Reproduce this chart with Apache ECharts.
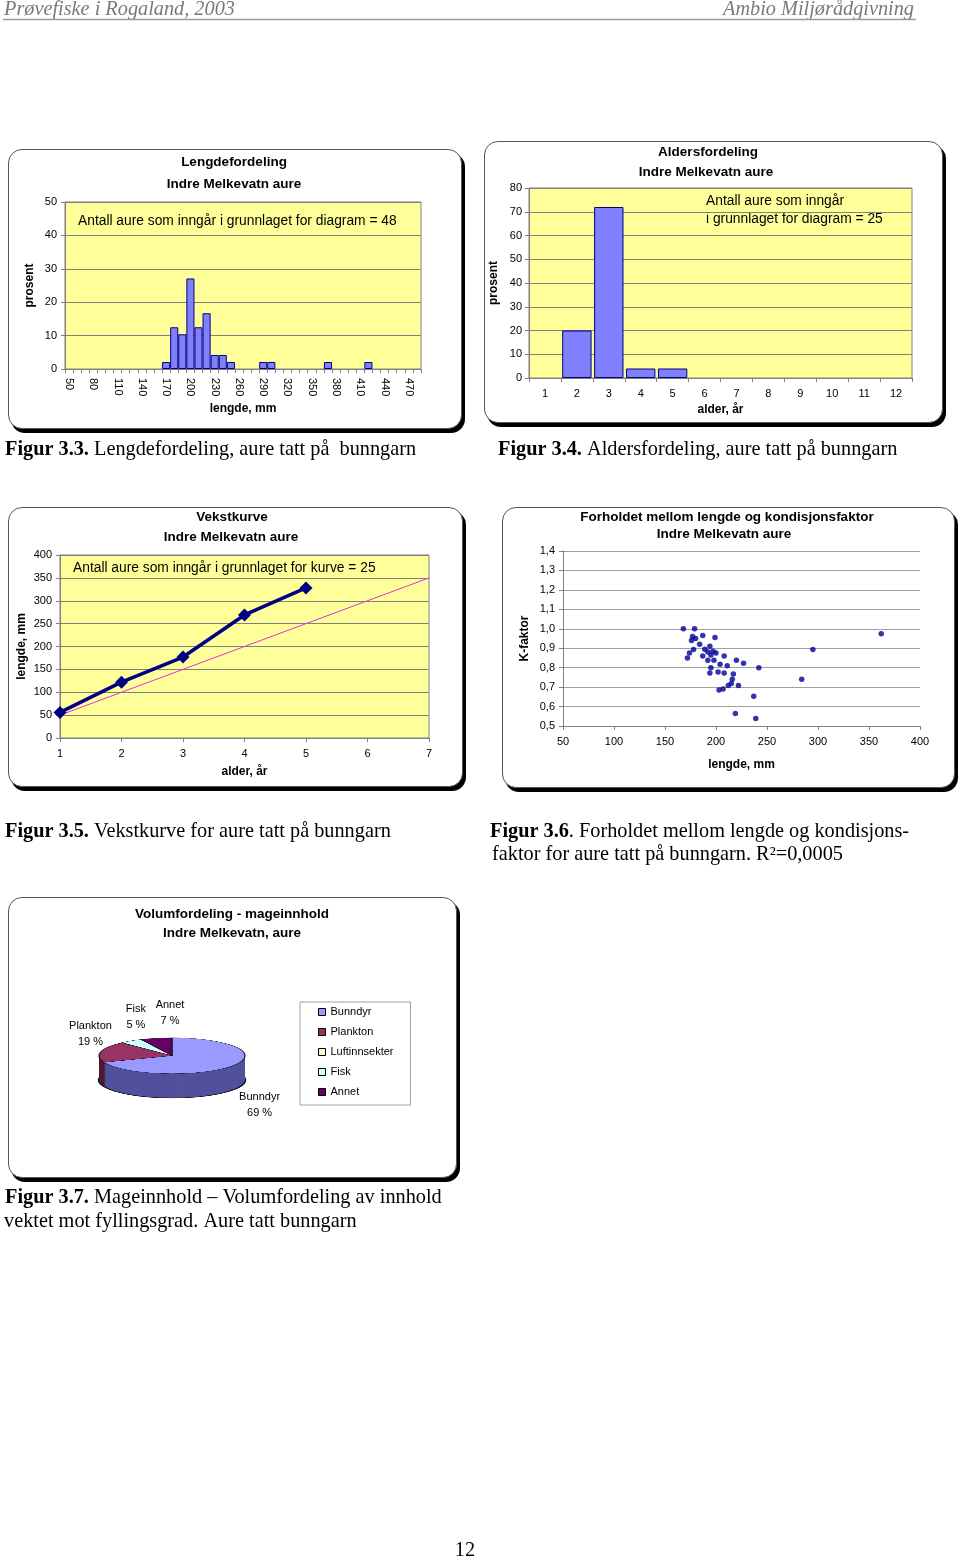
<!DOCTYPE html>
<html>
<head>
<meta charset="utf-8">
<script src="https://cdn.jsdelivr.net/npm/echarts@6/dist/echarts.min.js"></script>
<style>
html,body{margin:0;padding:0;background:#fff;}
#page{position:relative;width:960px;height:1561px;overflow:hidden;background:#fff;}
.frame{position:absolute;box-sizing:border-box;background:#fff;border:1px solid #555;border-radius:14px;box-shadow:3px 4px 0 0 #000;}
#main{position:absolute;left:0;top:0;width:960px;height:1561px;}
#pie3d{position:absolute;left:72px;top:1036.3px;width:200px;height:258px;transform-origin:0 0;transform:scaleY(0.246);}
</style>
</head>
<body>
<div id="page">
  <div class="frame" style="left:8px;top:149px;width:454px;height:280px;"></div>
  <div class="frame" style="left:484px;top:141px;width:459px;height:282px;"></div>
  <div class="frame" style="left:8px;top:507px;width:455px;height:280px;"></div>
  <div class="frame" style="left:502px;top:507px;width:453px;height:281px;"></div>
  <div class="frame" style="left:8px;top:897px;width:449px;height:281px;"></div>
  <div id="main"></div>
  <div id="pie3d"></div>
</div>
<script>
// ---------------- DATA ----------------
const histCategories = ['50','60','70','80','90','100','110','120','130','140','150','160','170','180','190','200','210','220','230','240','250','260','270','280','290','300','310','320','330','340','350','360','370','380','390','400','410','420','430','440','450','460','470','480'];
const histPercent = [0,0,0,0,0,0,0,0,0,0,0,0,2.1,12.5,10.4,27.1,12.5,16.7,4.2,4.2,2.1,0,0,0,2.1,2.1,0,0,0,0,0,0,2.1,0,0,0,0,2.1,0,0,0,0,0,0];

const ageCategories = ['1','2','3','4','5','6','7','8','9','10','11','12'];
const agePercent = [0,20,72,4,4,0,0,0,0,0,0,0];

const growthAge = [1,2,3,4,5];
const growthLength = [56,122,177,269,328];
const refAge = [1,7];
const refLength = [50,350];

const scatterLength = [168,179,177,187,176,180,199,184,194,189,197,192,200,195,187,208,174,178,172,192,198,220,227,204,211,242,195,194,202,208,217,216,215,212,222,207,203,237,219,239,295,284,362];
const scatterK = [1.00,1.00,0.96,0.965,0.94,0.95,0.955,0.92,0.91,0.895,0.885,0.88,0.875,0.865,0.86,0.86,0.875,0.893,0.85,0.838,0.838,0.838,0.823,0.817,0.81,0.80,0.80,0.773,0.778,0.773,0.767,0.74,0.718,0.708,0.708,0.69,0.685,0.653,0.564,0.538,0.893,0.74,0.975];

const dietCategories = ['Bunndyr','Plankton','Luftinnsekter','Fisk','Annet'];
const dietPercent = [69,19,0,5,7];

// ---------------- STYLE ----------------
const FONT = '"Liberation Sans", Arial, sans-serif';
const SERIF = '"Liberation Serif", "Times New Roman", serif';
const GRAY = '#808080';
const YELLOW = '#FFFF99';
const dietTop = ['#9999FF','#993366','#FFFFCC','#CCFFFF','#660066'];
const dietSide = ['#50509C','#4D1A33','#80806A','#668080','#330033'];
const PIE = {cx:172, cy:1056, rx:73, ry:18, depth:24};

const nameStyle = {fontWeight:'bold', fontSize:12, fontFamily:FONT, color:'#000'};
const labelStyle = {fontSize:11, fontFamily:FONT, color:'#000'};

function gridBox(left, top, width, height, filled) {
  return {left, top, width, height, containLabel:false, outerBoundsMode:'none',
    show: filled, backgroundColor: YELLOW, borderColor: GRAY, borderWidth: 1};
}
function axisCommon(extra) {
  return Object.assign({
    axisLine:{show:true, onZero:false, lineStyle:{color:GRAY, width:1}},
    axisTick:{show:true, inside:false, length:4, lineStyle:{color:GRAY}},
    nameLocation:'middle', nameTextStyle:nameStyle, nameMoveOverlap:false
  }, extra);
}

function txt(text, x, y, opts) {
  return {type:'text', x, y, silent:true, style:Object.assign({
    text, fill:'#000', fontFamily:FONT, fontSize:13.8, align:'center', verticalAlign:'middle'
  }, opts || {})};
}
const bold = {fontWeight:'bold', fontSize:13.5};

const graphics = [
  // header
  txt('Prøvefiske i Rogaland, 2003', 4, 10, {fontFamily:SERIF, fontStyle:'italic', fontSize:20.3, fill:'#7a7a7a', align:'left'}),
  txt('Ambio Miljørådgivning', 914, 10, {fontFamily:SERIF, fontStyle:'italic', fontSize:20.3, fill:'#7a7a7a', align:'right'}),
  {type:'line', silent:true, shape:{x1:3, y1:19.5, x2:916, y2:19.5}, style:{stroke:'#9a9a9a', lineWidth:1.5}},
  // titles
  txt('Lengdefordeling', 234, 162, bold),
  txt('Indre Melkevatn aure', 234, 184, bold),
  txt('Aldersfordeling', 708, 152, bold),
  txt('Indre Melkevatn aure', 706, 172, bold),
  txt('Vekstkurve', 232, 517, bold),
  txt('Indre Melkevatn aure', 231, 537, bold),
  txt('Forholdet mellom lengde og kondisjonsfaktor', 727, 517, bold),
  txt('Indre Melkevatn aure', 724, 534, bold),
  txt('Volumfordeling - mageinnhold', 232, 914, bold),
  txt('Indre Melkevatn, aure', 232, 933, bold),
  // annotations
  txt('Antall aure som inngår i grunnlaget for diagram = 48', 78, 221, {align:'left'}),
  txt('Antall aure som inngår', 706, 201, {align:'left'}),
  txt('i grunnlaget for diagram = 25', 706, 219, {align:'left'}),
  txt('Antall aure som inngår i grunnlaget for kurve = 25', 73, 568, {align:'left'}),
];

// captions
function caption(boldPart, rest, x, y) {
  return {type:'text', x, y, silent:true, style:{
    text:'{b|' + boldPart + '}' + rest, fill:'#000', fontFamily:SERIF, fontSize:20.3,
    align:'left', verticalAlign:'middle',
    rich:{b:{fontWeight:'bold', fontFamily:SERIF, fontSize:20.3, fill:'#000'}}
  }};
}
graphics.push(
  caption('Figur 3.3.', ' Lengdefordeling, aure tatt på  bunngarn', 5, 450),
  caption('Figur 3.4.', ' Aldersfordeling, aure tatt på bunngarn', 498, 450),
  caption('Figur 3.5.', ' Vekstkurve for aure tatt på bunngarn', 5, 832),
  caption('Figur 3.6', '. Forholdet mellom lengde og kondisjons-', 490, 832),
  txt('faktor for aure tatt på bunngarn. R²=0,0005', 492, 855, {fontFamily:SERIF, fontSize:20.3, align:'left'}),
  caption('Figur 3.7.', ' Mageinnhold – Volumfordeling av innhold', 5, 1198),
  txt('vektet mot fyllingsgrad. Aure tatt bunngarn', 4, 1222, {fontFamily:SERIF, fontSize:20.3, align:'left'}),
  txt('12', 465, 1551, {fontFamily:SERIF, fontSize:20.3})
);

// pie labels computed from data (placed around the 3D pie ellipse)
(function(){
  const total = dietPercent.reduce((a,b)=>a+b,0);
  let cum = 0;
  dietPercent.forEach((v,i)=>{
    const mid = (cum + v/2) / total * 2 * Math.PI;
    cum += v;
    if (v <= 0) return;
    const s = Math.sin(mid), c = Math.cos(mid);
    const x = PIE.cx + (PIE.rx + 22) * s + 9 + 10 * Math.max(0, c);
    const above = c >= 0;
    const y = above ? PIE.cy - (PIE.ry + 10) * c
                    : PIE.cy - (PIE.ry + PIE.depth + 16) * c;
    graphics.push(txt(dietCategories[i] + '\n' + v + ' %', x, y,
      {fontSize:11, lineHeight:16, verticalAlign: above ? 'bottom' : 'top'}));
  });
})();

const chart = echarts.init(document.getElementById('main'), null, {renderer:'canvas'});
const option = {
  animation:false,
  backgroundColor:'transparent',
  textStyle:{fontFamily:FONT},
  grid:[
    gridBox(65, 202, 356, 167, true),
    gridBox(529, 188, 383, 190, true),
    gridBox(60, 555, 369, 183, true),
    gridBox(563, 551, 357, 175, false)
  ],
  xAxis:[
    axisCommon({gridIndex:0, type:'category', data:histCategories, boundaryGap:true,
      axisTick:{show:true, interval:0, length:4, lineStyle:{color:GRAY}},
      axisLabel:Object.assign({interval:2, rotate:-90, margin:9}, labelStyle),
      splitLine:{show:false}, name:'lengde, mm', nameGap:34}),
    axisCommon({gridIndex:1, type:'category', data:ageCategories, boundaryGap:true,
      axisTick:{show:true, interval:0, length:4, lineStyle:{color:GRAY}},
      axisLabel:Object.assign({interval:0, margin:10}, labelStyle),
      splitLine:{show:false}, name:'alder, år', nameGap:26}),
    axisCommon({gridIndex:2, type:'value', min:1, max:7, interval:1,
      axisLabel:Object.assign({margin:10}, labelStyle),
      splitLine:{show:false}, name:'alder, år', nameGap:28}),
    axisCommon({gridIndex:3, type:'value', min:50, max:400, interval:50,
      axisLabel:Object.assign({margin:10}, labelStyle),
      splitLine:{show:false}, name:'lengde, mm', nameGap:33})
  ],
  yAxis:[
    axisCommon({gridIndex:0, type:'value', min:0, max:50, interval:10,
      axisLabel:Object.assign({margin:8}, labelStyle),
      splitLine:{show:true, lineStyle:{color:GRAY, width:1}}, name:'prosent', nameGap:29}),
    axisCommon({gridIndex:1, type:'value', min:0, max:80, interval:10,
      axisLabel:Object.assign({margin:7}, labelStyle),
      splitLine:{show:true, lineStyle:{color:GRAY, width:1}}, name:'prosent', nameGap:29}),
    axisCommon({gridIndex:2, type:'value', min:0, max:400, interval:50,
      axisLabel:Object.assign({margin:8}, labelStyle),
      splitLine:{show:true, lineStyle:{color:GRAY, width:1}}, name:'lengde, mm', nameGap:32}),
    axisCommon({gridIndex:3, type:'value', min:0.5, max:1.4, interval:0.1,
      axisLabel:Object.assign({margin:8, formatter:v=>v.toFixed(1).replace('.', ',')}, labelStyle),
      splitLine:{show:true, lineStyle:{color:'#a0a0a0', width:1}}, name:'K-faktor', nameGap:32})
  ],
  legend:{
    data:dietCategories, orient:'vertical', left:300, top:1002,
    icon:'rect', itemWidth:7, itemHeight:7, itemGap:6,
    padding:[3,17,6,18],
    borderColor:'#a0a0a0', borderWidth:1, backgroundColor:'#fff',
    selectedMode:false,
    itemStyle:{borderColor:'#000', borderWidth:1},
    textStyle:{fontSize:11, fontFamily:FONT, color:'#000', lineHeight:14}
  },
  series:[
    {type:'bar', name:'Lengdefordeling', xAxisIndex:0, yAxisIndex:0,
      data:histPercent.map(v=>v === 0 ? null : v), barCategoryGap:'0%',
      itemStyle:{color:'#8080FF', borderColor:'#000080', borderWidth:1}, silent:true},
    {type:'bar', name:'Aldersfordeling', xAxisIndex:1, yAxisIndex:1,
      data:agePercent.map(v=>v === 0 ? null : v), barCategoryGap:'8%',
      itemStyle:{color:'#8080FF', borderColor:'#000080', borderWidth:1}, silent:true},
    {type:'line', name:'Referanse', xAxisIndex:2, yAxisIndex:2,
      data:refAge.map((a,i)=>[a, refLength[i]]), symbol:'none',
      lineStyle:{color:'#E030E0', width:1}, silent:true},
    {type:'line', name:'Vekstkurve', xAxisIndex:2, yAxisIndex:2,
      data:growthAge.map((a,i)=>[a, growthLength[i]]), symbol:'diamond', symbolSize:13,
      lineStyle:{color:'#000080', width:3.5}, itemStyle:{color:'#000080'}, silent:true},
    {type:'scatter', name:'K-faktor', xAxisIndex:3, yAxisIndex:3,
      data:scatterLength.map((l,i)=>[l, scatterK[i]]), symbolSize:5.5,
      itemStyle:{color:'#000099'}, silent:true},
    {type:'pie', name:'Mageinnhold', center:[PIE.cx, PIE.cy], radius:0,
      data:dietCategories.map((n,i)=>({name:n, value:dietPercent[i], itemStyle:{color:dietTop[i]}})),
      label:{show:false}, labelLine:{show:false}, silent:true}
  ],
  graphic:{elements:graphics}
};
chart.setOption(option);

// ---------------- 3D pie (vertically squashed) ----------------
const pieChart = echarts.init(document.getElementById('pie3d'), null, {renderer:'canvas'});
const pieSeries = [];
const DEPTH_U = 99; // unscaled depth
for (let k = DEPTH_U; k >= 0; k -= 3) {
  const isTop = k === 0;
  const isBottom = k === DEPTH_U;
  pieSeries.push({
    type:'pie', center:[100, 80 + k], radius:PIE.rx, startAngle:90, clockwise:true,
    silent:true, avoidLabelOverlap:false, stillShowZeroSum:true,
    label:{show:false}, labelLine:{show:false}, emphasis:{disabled:true},
    data:dietCategories.map((n,i)=>({name:n, value:dietPercent[i],
      itemStyle:{color:isTop ? dietTop[i] : dietSide[i],
        borderColor:'#1a1a1a', borderWidth:isTop ? 1.2 : (isBottom ? 2.5 : 0)}}))
  });
}
pieChart.setOption({animation:false, backgroundColor:'transparent', series:pieSeries});
</script>
</body>
</html>
